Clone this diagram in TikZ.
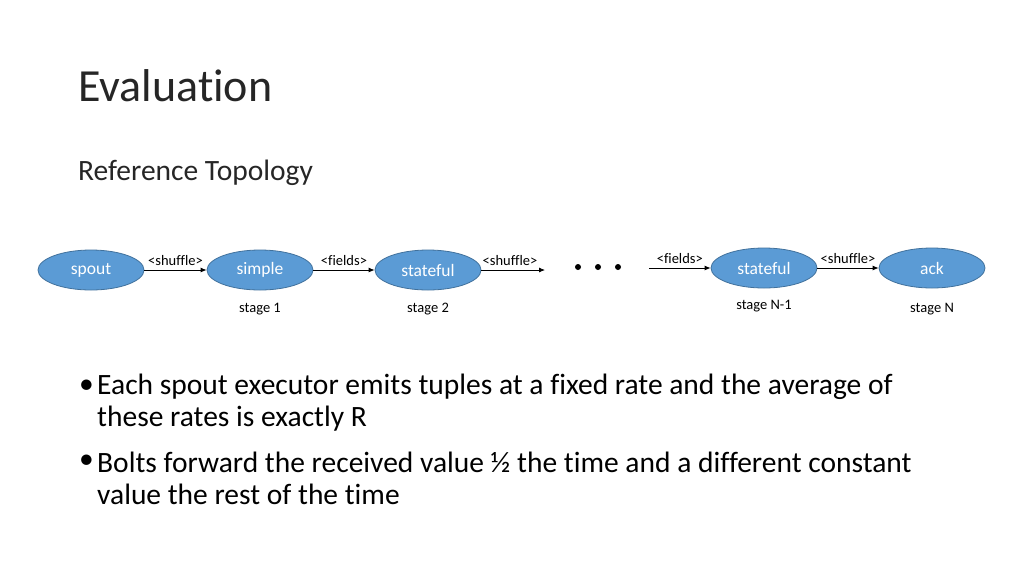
\documentclass[tikz,border=0pt]{standalone}
\usepackage{fontspec}
\setmainfont{Carlito}[Ligatures=NoCommon]
\usetikzlibrary{shapes.geometric,arrows.meta}
\definecolor{nodefill}{HTML}{5B9BD5}
\definecolor{nodeedge}{HTML}{41719C}
\definecolor{txt}{HTML}{262626}
\begin{document}
\begin{tikzpicture}[x=1pt,y=-1pt,
  op/.style={ellipse,fill=nodefill,draw=nodeedge,line width=0.8pt,minimum width=106pt,minimum height=40pt,inner sep=0pt,text=white,font=\fontsize{17.5}{20}\selectfont},
  edge/.style={-{Latex[length=6pt,width=5pt]},line width=0.8pt},
  elab/.style={font=\fontsize{14.5}{16}\selectfont,anchor=south,inner sep=0pt,yshift=4pt},
  stg/.style={font=\fontsize{14.5}{16}\selectfont},
  bul/.style={font=\fontsize{29.5}{34}\selectfont,anchor=west,inner sep=0pt,text=black}]
\useasboundingbox (0,0) rectangle (1024,576);
\fill[white] (0,0) rectangle (1024,576);
\node[anchor=west,inner sep=0pt,text=txt,font=\fontsize{46}{52}\selectfont] (title) at (78,86) {Evaluation};
\node[anchor=west,inner sep=0pt,text=txt,font=\fontsize{29.5}{34}\selectfont] (sub) at (78,173) {Reference Topology};
\node[op] (spout) at (91,270) {spout};
\node[op] (simple) at (260,270) {simple};
\node[op] (st2) at (428,270) {stateful};
\node[op] (stn) at (764,268) {stateful};
\node[op] (ack) at (932,268) {ack};
\coordinate (e3) at (545,270);
\coordinate (s4) at (649,268);
\draw[edge] (spout) -- node[elab]{<shuffle>} (simple);
\draw[edge] (simple) -- node[elab]{<fields>} (st2);
\draw[edge] (st2) -- node[elab,pos=0.45]{<shuffle>} (e3);
\draw[edge] (s4) -- node[elab,pos=0.5]{<fields>} (stn);
\draw[edge] (stn) -- node[elab]{<shuffle>} (ack);
\foreach \i/\x in {1/578,2/598,3/618} \fill (\x,267) circle (3pt) coordinate (d\i);
\node[stg] (l1) at (260,309) {stage 1};
\node[stg] (l2) at (428,309) {stage 2};
\node[stg] (l3) at (764,306) {stage N-1};
\node[stg] (l4) at (932,309) {stage N};
\node[bul] (b1) at (79,387) {•};
\node[bul] (t1) at (97,387) {Each spout executor emits tuples at a fixed rate and the average of};
\node[bul] (t1b) at (97,419) {these rates is exactly R};
\node[bul] (b2) at (79,462) {•};
\node[bul] (t2) at (97,462) {Bolts forward the received value ½ the time and a different constant};
\node[bul] (t2b) at (97,494) {value the rest of the time};
\end{tikzpicture}
\end{document}
